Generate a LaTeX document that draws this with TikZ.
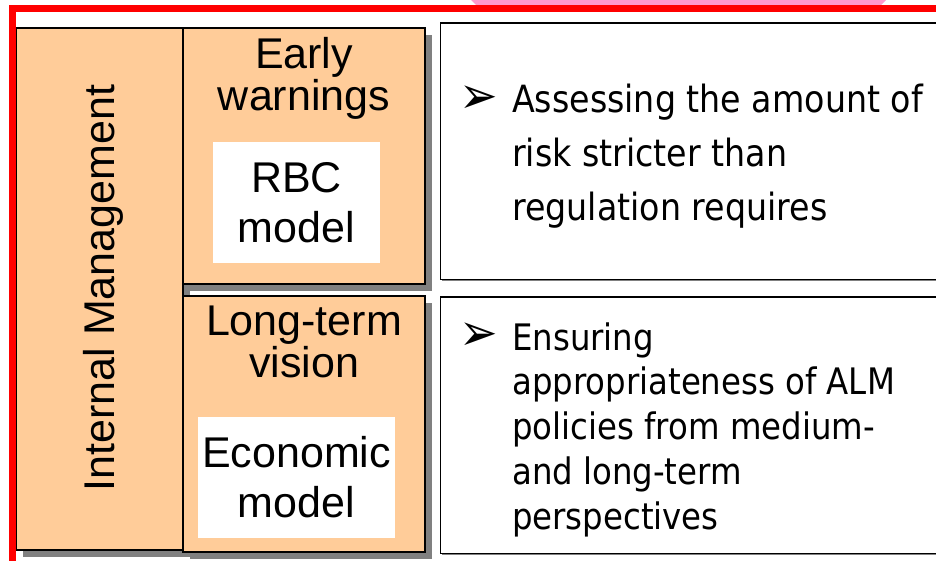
\documentclass[tikz,border=0pt]{standalone}
\usepackage{fontspec}
\setmainfont{Liberation Sans}
\newfontfamily\notefont[FakeStretch=0.887]{DejaVu Sans}
\usetikzlibrary{shadows}

\definecolor{boxorange}{RGB}{255,204,153}
\definecolor{shadowgray}{RGB}{128,128,128}
\definecolor{framered}{RGB}{255,0,0}
\definecolor{tabpink}{RGB}{255,153,204}

\tikzset{
  panel/.style={draw=black, line width=1.5pt, fill=boxorange, inner sep=0pt,
    drop shadow={shadow xshift=7pt, shadow yshift=-7pt, fill=shadowgray, opacity=1}},
  notebox/.style={draw=black, line width=1.8pt, fill=white, inner sep=0pt, anchor=north west,
    drop shadow={shadow xshift=2pt, shadow yshift=-2pt, fill=shadowgray, opacity=1}}
}

\begin{document}
\begin{tikzpicture}[x=1pt,y=-1pt,
  heading/.style={font=\fontsize{43}{40}\selectfont, align=center, anchor=base, inner sep=0pt},
  model/.style={fill=white, inner sep=0pt, font=\fontsize{43}{50}\selectfont, align=center},
  note/.style={anchor=base west, align=left, inner sep=0pt},
  pointer/.style={font=\notefont\fontsize{52}{52}\selectfont, inner sep=0pt}]
\useasboundingbox (0,0) rectangle (936,560);
\clip (0,0) rectangle (936,560);
\fill[tabpink] (470,-1) -- (476,5) -- (881,5) -- (887,-1) -- cycle;
\node[panel, minimum width=167pt, minimum height=522pt] (intmgmt) at (99.5,289) {};
\node[panel, minimum width=242pt, minimum height=256pt] (early) at (304,156) {};
\node[panel, minimum width=242pt, minimum height=256pt] (longterm) at (304,424) {};
\node[heading, rotate=90] (intT) at (114,288) {Internal Management};
\node[heading] (earlyT) at (304,110) {Early\\warnings};
\node[model, minimum width=167pt, minimum height=121pt] (rbc) at (296.5,202.5) {RBC\\model};
\node[heading] (longT) at (304,377) {Long-term\\vision};
\node[model, minimum width=197pt, minimum height=121pt] (econ) at (296.5,477.5) {Economic\\model};
\node[notebox, minimum width=520pt, minimum height=256.5pt] (riskbox) at (439.5,22) {};
\node[notebox, minimum width=520pt, minimum height=256.5pt] (almbox) at (439.5,296) {};
\node[pointer] (ptA) at (478.5,100) {➢};
\node[note, font=\notefont\fontsize{37.5}{54}\selectfont] (riskT) at (512,220)
  {Assessing the amount of\\risk stricter than\\regulation requires};
\node[pointer] (ptB) at (478.5,337) {➢};
\node[note, font=\notefont\fontsize{36.5}{44.7}\selectfont] (almT) at (512,529)
  {Ensuring\\appropriateness of ALM\\policies from medium-\\and long-term\\perspectives};
\draw[framered, line width=7.2pt] (12.8,8.4) rectangle (990,620);
\end{tikzpicture}
\end{document}
